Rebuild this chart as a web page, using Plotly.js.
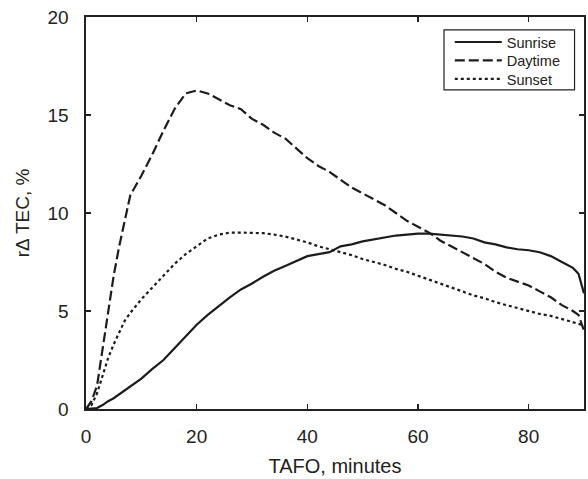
<!DOCTYPE html>
<html>
<head>
<meta charset="utf-8">
<script src="https://cdn.plot.ly/plotly-3.0.1.min.js"></script>
<style>html,body{margin:0;padding:0;background:#fff;}#chart{width:588px;height:479px;}</style>
</head>
<body>
<div id="chart"></div>
<script>
// TAFO, minutes
const tafo = [0,1,2,3,4,5,6,7,8,10,12,14,16,18,20,22,24,26,28,30,32,34,36,38,40,42,44,46,48,50,52,54,56,58,60,62,64,66,68,70,72,74,76,78,80,82,84,86,88,89,90];
// rΔTEC, % for each curve
const sunrise = [0,0.02,0.05,0.2,0.4,0.55,0.75,0.95,1.15,1.55,2.05,2.5,3.1,3.7,4.3,4.8,5.25,5.7,6.1,6.4,6.75,7.05,7.3,7.55,7.8,7.9,8.0,8.3,8.4,8.55,8.65,8.75,8.85,8.9,8.95,8.95,8.9,8.85,8.8,8.7,8.5,8.4,8.25,8.15,8.1,8.0,7.8,7.5,7.2,6.9,5.9];
const daytime = [0,0.4,1.2,3.1,5.0,6.8,8.3,9.6,10.9,11.9,13.0,14.2,15.3,16.1,16.25,16.1,15.8,15.5,15.3,14.8,14.5,14.1,13.8,13.3,12.8,12.4,12.1,11.7,11.3,11.0,10.7,10.4,10.0,9.6,9.3,9.0,8.6,8.3,8.0,7.7,7.4,7.0,6.7,6.5,6.3,6.0,5.7,5.3,5.0,4.8,4.0];
const sunset = [0,0.2,0.8,1.7,2.6,3.3,3.9,4.5,4.9,5.6,6.2,6.8,7.4,7.9,8.3,8.7,8.9,9.0,9.0,9.0,8.97,8.9,8.8,8.65,8.5,8.3,8.15,8.0,7.85,7.65,7.5,7.35,7.15,7.0,6.8,6.6,6.4,6.2,6.0,5.8,5.65,5.45,5.3,5.15,5.0,4.85,4.75,4.6,4.45,4.35,4.25];
const seriesNames = ["Sunrise","Daytime","Sunset"];
const xTicks = [0,20,40,60,80];
const yTicks = [0,5,10,15,20];

const fontFam = "Liberation Sans, Arial, sans-serif";
const ink = "#1c1c1c";
const traces = [
  {x: tafo, y: sunrise, name: seriesNames[0], legend: "legend", mode: "lines", line: {color: ink, width: 2.2, dash: "solid"}},
  {x: tafo, y: daytime, name: seriesNames[1], legend: "legend2", mode: "lines", line: {color: ink, width: 2.2, dash: "10px,4px"}},
  {x: tafo, y: sunset, name: seriesNames[2], legend: "legend3", mode: "lines", line: {color: ink, width: 2.2, dash: "3px,3px"}}
];
const axisCommon = {
  showline: true, linecolor: "#222", linewidth: 1.6, mirror: "ticks",
  ticks: "inside", ticklen: 5, tickwidth: 1.2, tickcolor: "#222",
  showgrid: false, zeroline: false, automargin: false,
  tickfont: {family: fontFam, size: 19, color: "#222"}
};
function legendAt(yPaper) {
  return {
    x: 0.7305, y: yPaper, xanchor: "left", yanchor: "middle",
    bgcolor: "rgba(0,0,0,0)", borderwidth: 0,
    font: {family: fontFam, size: 14.5, color: "#222"},
    itemwidth: 47
  };
}
const layout = {
  width: 588, height: 479,
  margin: {l: 86, r: 4, t: 17, b: 70},
  paper_bgcolor: "#fff", plot_bgcolor: "#fff",
  showlegend: true,
  font: {family: fontFam, color: "#222"},
  xaxis: Object.assign({}, axisCommon, {
    range: [0, 90], tickvals: xTicks, ticktext: xTicks.map(String), ticklabelstandoff: 10,
    title: {text: "TAFO, minutes", font: {family: fontFam, size: 20, color: "#222"}, standoff: 12}
  }),
  yaxis: Object.assign({}, axisCommon, {
    range: [0, 20], tickvals: yTicks, ticktext: yTicks.map(String), ticklabelstandoff: 12,
    title: {text: "rΔ TEC, %", font: {family: fontFam, size: 19, color: "#222"}, standoff: 13}
  }),
  legend: legendAt(0.936),
  legend2: legendAt(0.889),
  legend3: legendAt(0.842),
  shapes: [{
    type: "rect", xref: "paper", yref: "paper",
    x0: 0.7189, x1: 0.981, y0: 0.814, y1: 0.967,
    line: {color: "#222", width: 1.2}, fillcolor: "rgba(0,0,0,0)", layer: "above"
  }]
};
Plotly.newPlot("chart", traces, layout, {displayModeBar: false, staticPlot: true});
</script>
</body>
</html>
